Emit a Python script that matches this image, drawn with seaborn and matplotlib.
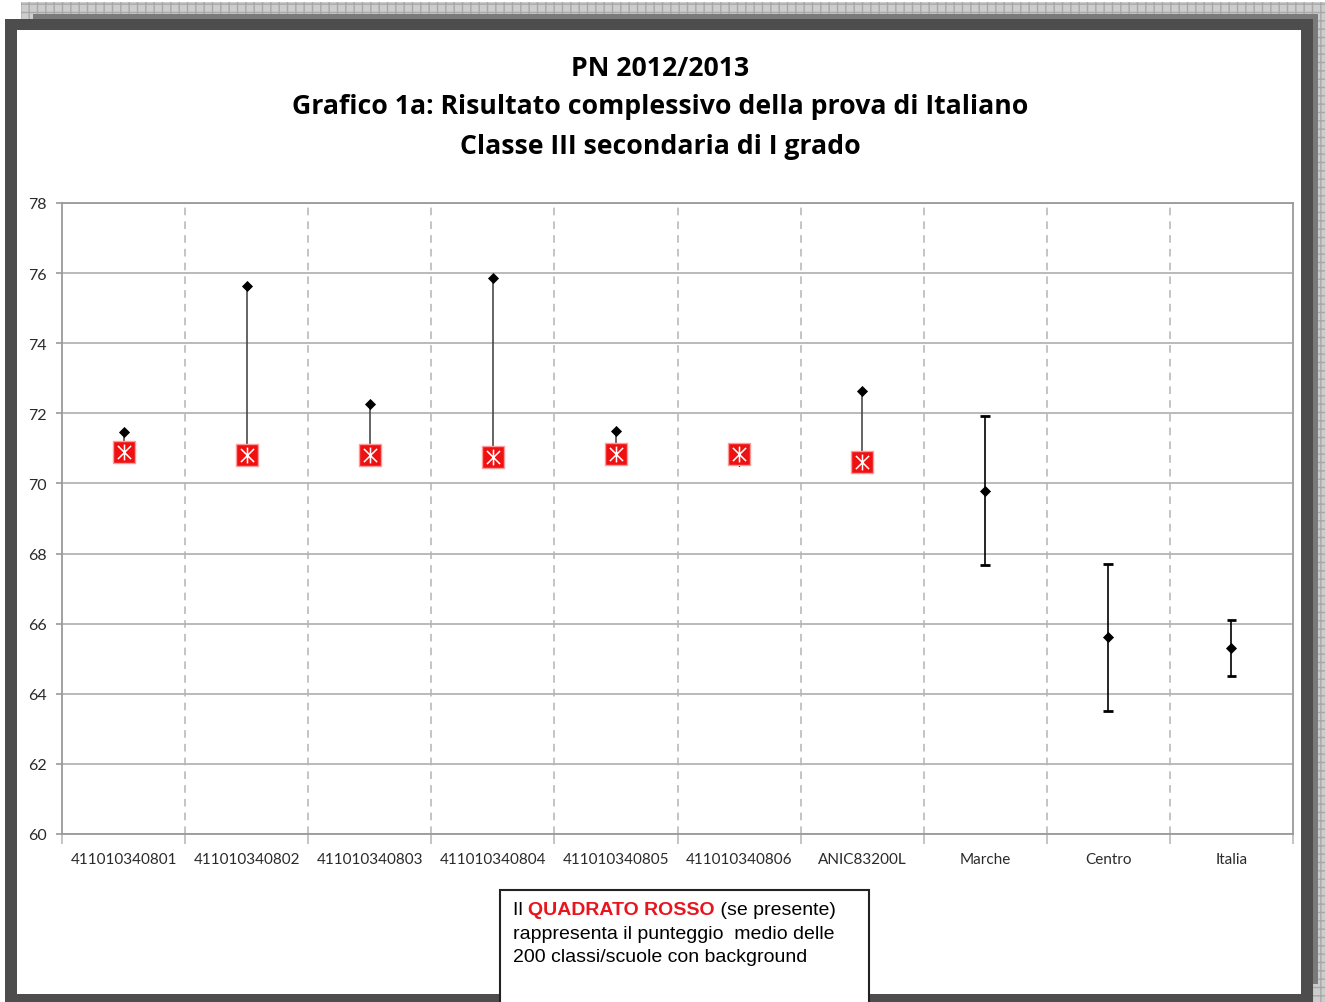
import numpy as np
import pandas as pd
import seaborn as sns
import matplotlib.pyplot as plt
from matplotlib.patches import Rectangle
from matplotlib.path import Path

# dati
categorie = ['411010340801', '411010340802', '411010340803', '411010340804',
             '411010340805', '411010340806', 'ANIC83200L', 'Marche', 'Centro', 'Italia']
punteggio = [71.47, 75.63, 72.27, 75.86, 71.50, 70.64, 72.64, 69.79, 65.62, 65.31]
background = [70.90, 70.81, 70.81, 70.76, 70.84, 70.84, 70.61, np.nan, np.nan, np.nan]
regioni = ['Marche', 'Centro', 'Italia']
ic_basso = [67.67, 63.51, 64.51]
ic_alto = [71.92, 67.70, 66.11]
y_ticks = [60, 62, 64, 66, 68, 70, 72, 74, 76, 78]

titolo = ['PN 2012/2013',
          'Grafico 1a: Risultato complessivo della prova di Italiano',
          'Classe III secondaria di I grado']

sns.set_style('white')
plt.rcParams['font.family'] = ['Lato', 'DejaVu Sans']

W, H = 1325, 1003
fig = plt.figure(figsize=(W / 100, H / 100), dpi=100)


def rett(x0, y0, x1, y1, **kw):
    # rettangolo in pixel (origine in alto a sinistra)
    r = Rectangle((x0 / W, 1 - y1 / H), (x1 - x0) / W, (y1 - y0) / H,
                  transform=fig.transFigure, **kw)
    fig.add_artist(r)
    return r


# cornice
rett(21, 3, 1325, 1003, facecolor='#cdcdcd', edgecolor='#a8a8a8', hatch='++',
     linewidth=0, zorder=-10)
rett(33, 15, 1318, 985, facecolor='#7a7a7a', linewidth=0, zorder=-9)
rett(5, 20, 1313, 1003, facecolor='#4d4d4d', linewidth=0, zorder=-8)
rett(17, 31, 1301, 995, facecolor='white', linewidth=0, zorder=-7)

ax = fig.add_axes([62 / W, 1 - 835 / H, (1293 - 62) / W, (835 - 204) / H])
ax.set_zorder(1)

df = pd.DataFrame({'categoria': categorie, 'punteggio': punteggio,
                   'background': background})
df['x'] = np.arange(len(df))

# linee alto-basso tra punteggio e background
scuole = df.dropna(subset=['background'])
ax.vlines(scuole['x'], scuole['background'], scuole['punteggio'],
          color='#4a4a4a', linewidth=1.2, zorder=2)

# intervalli di confidenza
reg = df[df['categoria'].isin(regioni)]
xr = reg['x'].to_numpy()
ax.vlines(xr, ic_basso, ic_alto, color='black', linewidth=1.2, zorder=2)
ax.hlines(ic_basso, xr - 0.04, xr + 0.04, color='black', linewidth=2, zorder=2)
ax.hlines(ic_alto, xr - 0.04, xr + 0.04, color='black', linewidth=2, zorder=2)

# asterisco di Excel: X + linea verticale
asterisco = Path([(-1, -1), (1, 1), (-1, 1), (1, -1), (0, -1.2), (0, 1.2)],
                 [Path.MOVETO, Path.LINETO, Path.MOVETO, Path.LINETO,
                  Path.MOVETO, Path.LINETO])

sns.scatterplot(data=df, x='x', y='punteggio', marker='D', color='black',
                s=32, linewidth=0, ax=ax, zorder=3)
sns.scatterplot(data=scuole, x='x', y='background', marker='s', color='#ee1111',
                edgecolor='#ff9a9a', linewidth=1, s=240, ax=ax, zorder=4)
sns.scatterplot(data=scuole, x='x', y='background', marker=asterisco,
                color='#ffe8e8', linewidth=1.1, s=130, ax=ax, zorder=5)

ax.set_xlim(-0.5, len(categorie) - 0.5)
ax.set_ylim(60, 78)
ax.set_yticks(y_ticks)
ax.set_xticks(np.arange(len(categorie) + 1) - 0.5)
ax.set_xticklabels([])
ax.set_xticks(np.arange(len(categorie)), minor=True)
ax.set_xticklabels(categorie, minor=True)
ax.set_xlabel('')
ax.set_ylabel('')

ax.grid(axis='y', color='#b4b4b4', linewidth=1.3)
for xb in np.arange(1, len(categorie)) - 0.5:
    ax.axvline(xb, color='#b4b4b4', linewidth=1.1, linestyle=(0, (5, 4)), zorder=0)
for s in ax.spines.values():
    s.set_color('#9a9a9a')
    s.set_linewidth(1.3)

ax.tick_params(axis='y', which='major', length=4, color='#9a9a9a', width=1.2,
               labelsize=11.5, labelcolor='#2a2a2a', pad=7, left=True)
ax.tick_params(axis='x', which='major', length=7, color='#b4b4b4', width=1.1,
               bottom=True, direction='out')
ax.tick_params(axis='x', which='minor', length=0, labelsize=11,
               labelcolor='#2a2a2a', pad=13)

for ypx, riga in zip([69, 107, 147], titolo):
    fig.text(660 / W, 1 - ypx / H, riga, ha='center', va='center',
             fontsize=19.2, fontweight='bold', color='black',
             family=['Open Sans', 'DejaVu Sans'])

# riquadro della legenda
rett(500, 891, 869, 1010, facecolor='white', edgecolor='#222222', linewidth=1.5,
     zorder=-6)

fig.canvas.draw()
rend = fig.canvas.get_renderer()
x = 513 / W
y1 = 1 - 911 / H
pezzi = [('Il ', 'black', 'normal'), ('QUADRATO ROSSO', '#e8141e', 'bold'),
         (' (se presente)', 'black', 'normal')]
for testo, col, peso in pezzi:
    t = fig.text(x, y1, testo, ha='left', va='center', fontsize=14,
                 family=['Liberation Sans'], color=col, fontweight=peso)
    bb = t.get_window_extent(rend)
    x = bb.x1 / W
for ypx, riga in zip([935, 958], ['rappresenta il punteggio  medio delle',
                                  '200 classi/scuole con background']):
    fig.text(513 / W, 1 - ypx / H, riga, ha='left', va='center', fontsize=14,
             family=['Liberation Sans'], color='black')

fig.savefig('out.png', dpi=100)
